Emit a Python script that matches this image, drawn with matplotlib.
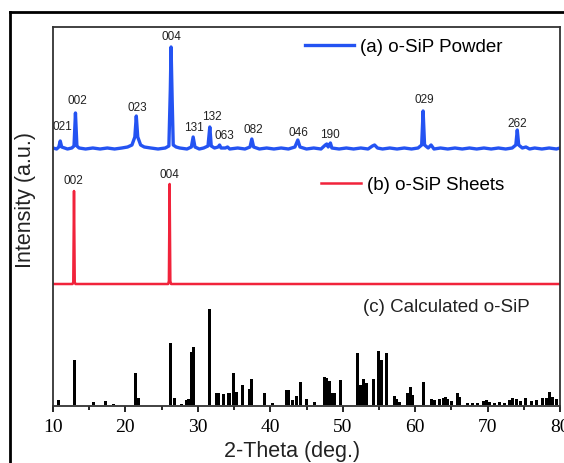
import matplotlib.pyplot as plt
import numpy as np

# --- Data ---
# (a) o-SiP powder trace: 2-theta and intensity above its own baseline
powder_x = [10.0, 10.5, 10.8, 11.0, 11.2, 11.6, 12.0, 12.6, 12.9, 13.1, 13.3, 13.6,
            14.5, 15.5, 16.5, 17.5, 18.5, 19.5, 20.3, 20.9, 21.3, 21.5, 21.7, 22.1,
            22.6, 23.5, 24.5, 25.5, 26.0, 26.2, 26.3, 26.45, 26.6, 27.0, 27.5, 28.5,
            29.1, 29.35, 29.6, 30.2, 30.8, 31.4, 31.65, 31.85, 32.3, 32.8, 33.0, 33.2,
            33.8, 34.1, 34.4, 35.5, 36.5, 37.2, 37.45, 37.7, 38.5, 39.5, 40.5, 41.5,
            42.5, 43.4, 43.8, 44.1, 45.0, 46.0, 47.0, 47.6, 47.8, 48.0, 48.3, 48.5,
            49.5, 50.5, 51.5, 52.5, 53.5, 54.1, 54.4, 54.8, 55.5, 56.5, 57.5, 58.5,
            59.5, 60.4, 60.9, 61.1, 61.3, 61.8, 62.2, 62.6, 63.5, 64.5, 65.5, 66.5,
            67.5, 68.5, 69.5, 70.5, 71.5, 72.5, 73.4, 73.9, 74.1, 74.3, 74.8, 75.3,
            75.8, 76.5, 77.5, 78.5, 79.5, 80.0]
powder_y = [1, 0, 2, 8, 2, 1, 0, 1, 3, 36, 3, 1,
            0, 1, 0, 1, 0, 1, 2, 4, 12, 33, 12, 4,
            2, 1, 0, 1, 3, 60, 102, 50, 4, 2, 1, 0,
            2, 12, 2, 0, 1, 3, 22, 3, 1, 2, 4, 1,
            1, 2, 0, 1, 0, 2, 10, 2, 0, 1, 0, 1,
            0, 2, 9, 2, 0, 1, 0, 4, 5, 2, 6, 1,
            0, 1, 0, 1, 0, 3, 4, 1, 0, 1, 0, 1,
            0, 1, 4, 38, 4, 1, 4, 0, 1, 0, 1, 0,
            1, 0, 1, 0, 1, 0, 1, 4, 19, 4, 1, 2,
            0, 1, 0, 1, 0, 1]

# (b) o-SiP sheets trace
sheets_x = [10.0, 12.7, 12.8, 12.9, 13.0, 13.1, 25.9, 26.0, 26.1, 26.2, 26.3, 80.0]
sheets_y = [0, 0, 2, 93, 2, 0, 0, 3, 100, 3, 0, 0]

# (c) calculated stick pattern
calc_pos = [10.8, 13.0, 15.6, 17.3, 18.4, 21.45, 21.8, 26.2, 26.8, 27.75, 28.4, 28.75,
            29.1, 29.35, 31.55, 32.6, 32.8, 33.6, 34.2, 34.4, 34.9, 35.4, 36.2, 37.1,
            37.4, 39.2, 40.3, 42.2, 42.5, 43.1, 43.6, 44.2, 45.0, 46.1, 47.5, 47.8,
            48.2, 48.6, 48.9, 49.7, 52.1, 52.4, 52.9, 53.3, 54.2, 55.0, 55.3, 56.1,
            57.1, 57.4, 57.9, 59.0, 59.4, 59.7, 61.1, 62.2, 62.7, 63.4, 63.9, 64.2,
            64.5, 65.0, 65.9, 66.1, 67.2, 67.9, 68.6, 69.4, 69.8, 70.3, 71.0, 71.6,
            72.3, 73.0, 73.5, 74.0, 74.6, 75.3, 76.0, 76.7, 77.6, 78.1, 78.6, 79.0, 79.5]
calc_int = [5, 45, 3, 4, 1.5, 32, 7, 62, 7, 1, 5, 6,
            53, 58, 96, 12, 12, 11, 12, 12, 32, 13, 20, 16,
            26, 12, 2, 15, 15, 5, 9, 23, 6, 3, 28, 27,
            24, 12, 12, 25, 52, 20, 26, 22, 26, 54, 45, 52,
            9, 6, 3, 12, 18, 10, 23, 6, 5, 6, 7, 8,
            6, 4, 12, 8, 2, 2, 2, 4, 5, 3, 2, 3,
            2, 5, 7, 6, 4, 7, 4, 5, 7, 7, 13, 8, 6]

# hkl labels: (text, 2-theta, height in plot units)
powder_labels = [("021", 11.3, 278), ("002", 13.3, 304), ("023", 21.7, 297),
                 ("004", 26.3, 368), ("131", 29.5, 277), ("132", 31.9, 288),
                 ("063", 33.6, 269), ("082", 37.7, 275), ("046", 43.9, 272),
                 ("190", 48.3, 270), ("029", 61.2, 305), ("262", 74.1, 281)]
sheets_labels = [("002", 12.8, 224), ("004", 26.1, 230)]

POWDER_OFFSET = 256
SHEETS_OFFSET = 121
BLUE = "#2453f2"
RED = "#f1233b"
SANS = ["Liberation Sans", "DejaVu Sans"]

# --- Plot ---
fig = plt.figure(figsize=(5.64, 4.63), dpi=100)
ax = fig.add_axes([53 / 564, 57 / 463, 507 / 564, 379 / 463])

line_a, = ax.plot(powder_x, np.array(powder_y) + POWDER_OFFSET, color=BLUE, lw=2.4)
line_b, = ax.plot(sheets_x, np.array(sheets_y) + SHEETS_OFFSET, color=RED, lw=1.8)
ax.bar(calc_pos, calc_int, width=0.42, color="black", bottom=0)

for txt, x, y in powder_labels + sheets_labels:
    ax.text(x, y, txt, ha="center", va="center", fontsize=8.5, family=SANS, color="#222222")

leg_a = ax.legend([line_a], ["(a) o-SiP Powder"], loc="center left",
                  bbox_to_anchor=(0.497, 0.947), frameon=False, borderpad=0,
                  borderaxespad=0, handlelength=2.6, handletextpad=0.35,
                  prop={"family": SANS, "size": 13.5})
ax.add_artist(leg_a)
ax.legend([line_b], ["(b) o-SiP Sheets"], loc="center left",
          bbox_to_anchor=(0.529, 0.583), frameon=False, borderpad=0,
          borderaxespad=0, handlelength=2.1, handletextpad=0.33,
          prop={"family": SANS, "size": 13.5})
ax.text(0.611, 0.259, "(c) Calculated o-SiP", transform=ax.transAxes,
        ha="left", va="center", fontsize=13.5, family=SANS, color="#222222")

ax.set_xlim(10, 80)
ax.set_ylim(-1, 378)
ax.set_yticks([])
ax.set_xticks(range(10, 81, 10))
ax.set_xticks(range(15, 80, 10), minor=True)
ax.tick_params(axis="x", which="major", direction="out", length=4, width=1.2, pad=5)
ax.tick_params(axis="x", which="minor", direction="out", length=3, width=1.2)
for lab in ax.get_xticklabels():
    lab.set_family("Liberation Serif")
    lab.set_fontsize(14)
for sp in ax.spines.values():
    sp.set_color("#333333")
    sp.set_linewidth(1.3)

fig.text(292 / 564, 1 - 452 / 463, "2-Theta (deg.)", ha="center", va="center",
         fontsize=15.5, family=SANS, color="#222222")
fig.text(25 / 564, 1 - 200 / 463, "Intensity (a.u.)", ha="center", va="center",
         rotation=90, fontsize=15.5, family=SANS, color="#222222")

# outer frame of the original figure panel
fig.add_artist(plt.Line2D([10 / 564, 10 / 564], [0, 1 - 12 / 463], color="black",
                          lw=2.0, transform=fig.transFigure))
fig.add_artist(plt.Line2D([10 / 564, 1], [1 - 12 / 463, 1 - 12 / 463], color="black",
                          lw=2.0, transform=fig.transFigure))

fig.savefig("out.png", dpi=100)
